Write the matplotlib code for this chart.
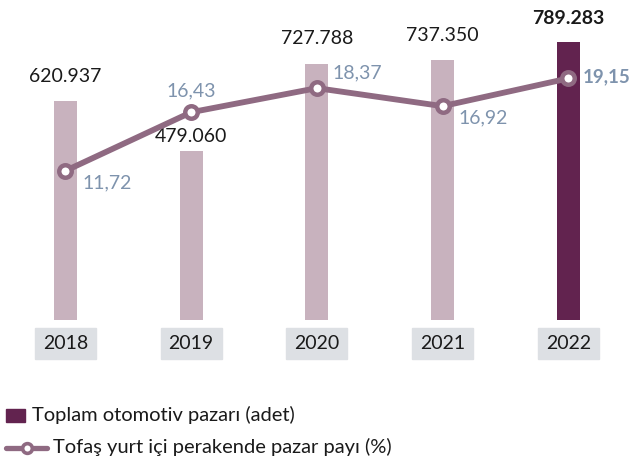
import matplotlib
matplotlib.use("Agg")
import matplotlib.pyplot as plt
from matplotlib.patches import Rectangle
from matplotlib.lines import Line2D
from matplotlib.transforms import blended_transform_factory

plt.rcParams['font.family'] = ['Lato', 'DejaVu Sans']

# data
years = ["2018", "2019", "2020", "2021", "2022"]
market = [620937, 479060, 727788, 737350, 789283]
market_labels = ["620.937", "479.060", "727.788", "737.350", "789.283"]
share = [11.72, 16.43, 18.37, 16.92, 19.15]
share_labels = ["11,72", "16,43", "18,37", "16,92", "19,15"]

light_bar = "#c8b2be"
dark_bar = "#62234f"
line_col = "#8f6a82"
pct_col = "#7e93ad"
box_col = "#dde0e4"
txt_col = "#1a1a1a"

fig = plt.figure(figsize=(6.3, 4.61), dpi=100)
ax = fig.add_axes([0, 0.3065, 1, 0.6935])
ax2 = ax.twinx()

x = list(range(len(years)))
colors = [light_bar] * (len(years) - 1) + [dark_bar]
ax.bar(x, market, width=0.183, color=colors, zorder=1)
ax.set_xlim(-0.521, 4.491)
ax.set_ylim(0, 908900)

# value labels above bars (2019 sits lower to dodge the line label)
bar_offsets = [14, 6.7, 14, 14, 13]
for i, (v, lab) in enumerate(zip(market, market_labels)):
    last = i == len(years) - 1
    ax.annotate(lab, (i, v), xytext=(0, bar_offsets[i]), textcoords="offset points",
                ha="center", va="baseline", fontsize=14, color=txt_col,
                fontweight="bold" if last else "normal")

# year boxes under bars
trans = blended_transform_factory(ax.transData, ax.transAxes)
for i, y in enumerate(years):
    ax.add_patch(Rectangle((i - 0.2425, -0.123), 0.485, 0.097, transform=trans,
                           color=box_col, clip_on=False, zorder=0))
    ax.text(i, -0.0745, y, transform=trans, ha="center", va="center",
            fontsize=14, color=txt_col)

# market share line
ax2.plot(x, share, color=line_col, lw=4.2, marker="o", ms=9, mfc="white",
         mec=line_col, mew=3.2, zorder=3, solid_capstyle="round")
ax2.set_ylim(-0.26, 25.46)

pct_offsets = [(12, -8.6, "left"), (0, 15.5, "center"), (11.5, 10.8, "left"),
               (11.5, -8.3, "left"), (10.5, 1, "left")]
for i, (v, lab) in enumerate(zip(share, share_labels)):
    dx, dy, ha = pct_offsets[i]
    last = i == len(years) - 1
    ax2.annotate(lab, (i, v), xytext=(dx, dy), textcoords="offset points",
                 ha=ha, va="center", fontsize=13.5 if last else 14, color=pct_col,
                 fontweight="bold" if last else "normal")

for a in (ax, ax2):
    a.axis("off")

# legend, drawn by hand so the two rows can start at different x
fig.add_artist(Rectangle((6 / 630, 39 / 461), 19 / 630, 13 / 461,
                         transform=fig.transFigure, color=dark_bar))
fig.text(32 / 630, 0.0998, "Toplam otomotiv pazarı (adet)", ha="left", va="center",
         fontsize=14.5, color=txt_col)
fig.add_artist(Line2D([6 / 630, 47 / 630], [13.3 / 461, 13.3 / 461],
                      transform=fig.transFigure, color=line_col, lw=3.8,
                      solid_capstyle="round"))
fig.add_artist(Line2D([26.7 / 630], [13.3 / 461], transform=fig.transFigure,
                      marker="o", ms=7, mfc="white", mec=line_col, mew=2.6, ls="none"))
fig.text(53 / 630, 0.0304, "Tofaş yurt içi perakende pazar payı (%)", ha="left",
         va="center", fontsize=14.5, color=txt_col)

fig.savefig("out.png", dpi=100)
